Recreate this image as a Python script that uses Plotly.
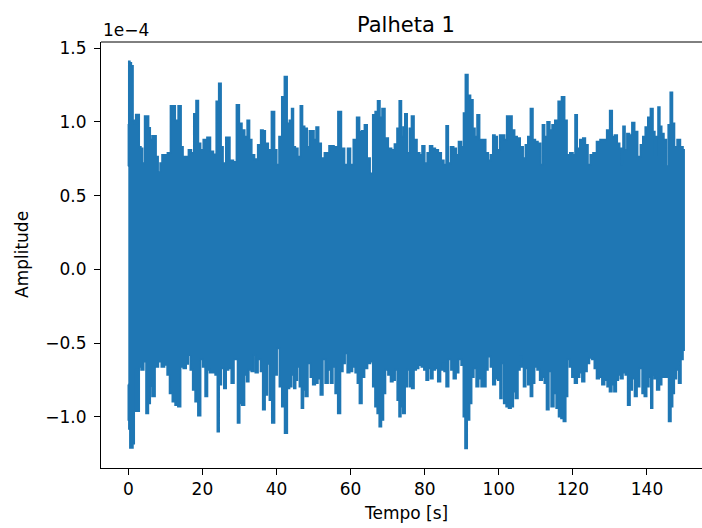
import plotly.graph_objects as go

# Vibration record of blade 1: upper and lower peak envelope of the signal
# (amplitude in units of 1e-4), sampled along the 150 s record.
t_upper = [0.0, 0.1, 0.2, 0.6, 1.0, 1.5, 1.8, 2.25, 2.7, 3.15, 3.6, 4.05, 4.8, 5.2, 5.7, 6.1, 6.75, 7.3, 7.65, 8.4,
           8.8, 9.45, 10.35, 10.8, 12.0, 12.3, 13.0, 13.95, 14.5, 15.0, 15.9, 16.6, 17.4, 18.0, 18.6, 19.2, 19.8, 20.7,
           21.8, 22.5, 23.4, 24.1, 24.75, 25.3, 25.8, 26.9, 27.9, 28.8, 29.6, 30.3, 31.0, 31.8, 32.4, 33.0, 33.6, 34.5,
           35.4, 36.1, 36.6, 37.3, 38.2, 39.1, 39.8, 40.3, 41.1, 41.8, 42.5, 43.2, 43.8, 44.4, 44.7, 45.4, 46.1, 46.8,
           47.2, 47.95, 48.6, 49.2, 49.8, 50.4, 51.0, 51.7, 52.4, 53.5, 54.9, 56.1, 57.1, 57.9, 58.8, 59.6, 60.3, 61.2,
           62.1, 62.7, 63.4, 64.1, 64.8, 65.7, 66.3, 67.0, 67.6, 68.2, 68.8, 69.7, 70.6, 71.5, 72.2, 72.9, 73.4, 74.0,
           74.4, 74.9, 75.6, 76.2, 76.7, 77.5, 78.3, 79.0, 79.6, 80.4, 81.0, 81.7, 82.5, 83.2, 84.1, 84.8, 85.5, 86.1,
           86.6, 87.4, 88.2, 88.8, 89.5, 90.3, 90.7, 91.3, 92.0, 92.7, 93.3, 93.8, 94.5, 95.1, 96.0, 96.9, 97.4, 98.1,
           98.7, 99.2, 99.9, 100.6, 101.2, 101.9, 102.4, 103.2, 103.9, 104.6, 105.3, 106.2, 106.9, 107.5, 108.2, 108.9,
           109.5, 110.2, 110.9, 111.6, 112.0, 112.7, 113.4, 114.1, 114.7, 115.6, 116.5, 117.4, 118.1, 118.7, 119.7,
           120.3, 120.9, 121.4, 122.4, 123.0, 123.7, 124.4, 125.0, 125.9, 126.9, 127.8, 128.7, 129.6, 130.3, 130.9,
           131.6, 132.3, 132.9, 133.3, 133.8, 134.3, 134.9, 135.6, 136.3, 137.0, 137.9, 138.6, 139.2, 139.9, 140.6,
           141.3, 141.9, 142.3, 142.8, 143.2, 143.7, 144.2, 144.9, 145.5, 146.0, 146.6, 147.1, 147.7, 148.6, 149.4,
           150.0]
amp_upper = [0.70, 0.98, 1.41, 1.40, 1.38, 1.01, 0.99, 1.05, 1.05, 0.83, 0.82, 0.72, 1.04, 1.04, 0.96, 0.88, 0.905,
             0.905, 0.765, 0.66, 0.72, 0.776, 0.776, 0.79, 1.108, 1.108, 1.01, 1.108, 0.83, 0.765, 0.765, 0.81, 0.79,
             1.054, 1.145, 0.855, 0.81, 0.88, 0.896, 0.80, 0.78, 1.14, 1.262, 0.83, 0.72, 0.896, 0.74, 0.73, 1.115,
             0.99, 0.945, 0.90, 1.01, 0.88, 0.776, 0.747, 0.844, 0.945, 0.94, 0.855, 0.81, 1.07, 0.81, 0.71, 0.90,
             1.17, 1.307, 0.99, 1.01, 1.09, 0.83, 0.82, 0.765, 1.108, 0.97, 0.957, 0.83, 0.94, 0.94, 0.88, 0.965,
             0.855, 0.754, 0.79, 0.837, 0.83, 1.07, 0.82, 0.71, 0.82, 0.71, 0.88, 1.03, 0.935, 0.94, 0.98, 0.754,
             0.652, 1.047, 1.07, 1.142, 1.03, 1.09, 0.89, 0.82, 0.81, 0.85, 0.957, 1.142, 0.90, 0.965, 1.054, 0.79,
             0.957, 1.04, 0.88, 0.79, 0.776, 0.837, 0.72, 0.79, 0.837, 0.82, 0.81, 0.79, 0.74, 0.71, 0.973, 0.72,
             0.83, 0.82, 0.776, 0.867, 0.83, 1.06, 1.32, 1.18, 1.15, 0.957, 0.90, 1.047, 0.88, 0.88, 0.79, 0.74,
             0.776, 0.91, 0.90, 0.81, 0.91, 0.91, 0.88, 1.04, 1.04, 0.945, 0.90, 0.89, 0.83, 0.754, 0.844, 0.90, 1.09,
             0.88, 0.867, 0.855, 0.71, 0.98, 0.90, 1.00, 0.945, 0.98, 1.01, 1.14, 1.17, 1.01, 0.776, 0.79, 0.776,
             1.047, 0.82, 0.88, 0.89, 0.844, 0.71, 0.776, 0.79, 0.867, 0.88, 0.88, 0.945, 1.077, 0.90, 0.91, 0.855,
             0.82, 0.71, 0.97, 0.81, 0.92, 0.91, 0.995, 0.935, 0.765, 0.844, 0.90, 0.965, 1.03, 1.09, 0.935, 0.776,
             0.90, 1.10, 0.97, 0.92, 0.88, 0.70, 0.98, 1.20, 0.99, 0.83, 0.88, 0.83, 0.81]

t_lower = [0.0, 0.05, 0.3, 0.6, 1.1, 1.35, 1.8, 2.25, 2.7, 3.15, 3.8, 4.5, 5.1, 5.7, 6.1, 6.75, 7.65, 8.55, 9.3, 10.2,
           10.8, 11.5, 12.3, 13.0, 13.8, 14.4, 15.3, 15.9, 16.4, 17.1, 17.7, 18.4, 19.2, 19.8, 20.4, 21.1, 21.6, 22.3,
           23.1, 23.8, 24.3, 24.7, 25.5, 26.1, 26.7, 27.4, 28.2, 28.8, 29.2, 29.8, 30.3, 31.0, 31.7, 32.2, 32.8, 33.6,
           34.0, 34.6, 35.4, 36.0, 36.6, 37.2, 37.8, 38.4, 39.1, 39.8, 40.5, 41.1, 41.8, 42.6, 43.2, 43.8, 44.4, 45.0,
           45.3, 45.9, 46.5, 47.0, 47.5, 48.1, 48.8, 49.5, 50.1, 50.8, 51.5, 52.2, 52.8, 53.5, 54.3, 54.9, 55.5, 56.2,
           56.9, 57.6, 58.2, 58.8, 59.4, 60.1, 60.9, 61.6, 62.1, 62.7, 63.4, 64.1, 65.0, 65.7, 66.3, 66.9, 67.5, 68.0,
           68.6, 69.1, 69.7, 70.5, 71.1, 71.7, 72.3, 72.9, 73.3, 73.8, 74.4, 75.0, 75.6, 76.2, 76.8, 77.4, 78.0, 78.7,
           79.5, 80.1, 80.7, 81.3, 81.9, 82.5, 83.2, 83.9, 84.6, 85.0, 85.5, 86.1, 86.8, 87.4, 88.1, 88.8, 89.5, 90.2,
           90.7, 91.1, 91.8, 92.4, 92.9, 93.6, 94.2, 94.9, 95.6, 96.3, 96.7, 97.4, 98.1, 98.7, 99.4, 100.1, 100.6,
           101.0, 101.7, 102.3, 103.0, 103.6, 104.2, 104.8, 105.5, 105.9, 106.4, 107.0, 107.5, 108.2, 108.9, 109.3,
           110.0, 110.7, 111.4, 112.0, 112.6, 113.2, 113.8, 114.5, 115.2, 115.8, 116.5, 117.1, 117.8, 118.3, 118.8,
           119.4, 120.1, 120.8, 121.5, 122.1, 122.8, 123.5, 124.1, 124.8, 125.5, 126.1, 126.7, 127.5, 128.2, 128.9,
           129.6, 130.2, 130.8, 131.4, 132.0, 132.5, 133.2, 133.8, 134.5, 135.1, 135.7, 136.3, 137.0, 137.6, 138.4,
           139.0, 139.6, 140.2, 140.8, 141.3, 141.7, 142.3, 143.0, 143.7, 144.2, 144.9, 145.5, 146.2, 146.7, 147.1,
           147.6, 148.2, 148.9, 149.4, 150.0]
amp_lower = [-0.78, -1.02, -1.08, -1.21, -1.21, -1.18, -0.96, -0.68, -0.96, -0.66, -0.68, -0.625, -0.975, -0.907,
             -0.79, -0.86, -0.66, -0.625, -0.66, -0.647, -0.715, -0.84, -0.896, -0.92, -0.93, -0.66, -0.67, -0.64,
             -0.58, -0.68, -0.817, -0.896, -0.99, -0.61, -0.66, -0.86, -0.68, -0.70, -0.70, -0.715, -1.10, -0.78,
             -0.67, -0.806, -0.68, -0.67, -0.77, -0.61, -0.61, -1.04, -0.907, -0.92, -0.715, -0.76, -0.68, -0.69,
             -0.58, -0.70, -0.61, -0.69, -0.95, -0.85, -0.64, -0.885, -1.04, -0.715, -0.535, -0.795, -0.93, -1.11,
             -0.806, -0.795, -0.715, -0.806, -0.75, -0.66, -0.795, -0.94, -0.817, -0.86, -0.636, -0.73, -0.78, -0.77,
             -0.74, -0.85, -0.61, -0.77, -0.68, -0.77, -0.66, -0.84, -0.975, -0.69, -0.636, -0.568, -0.70, -0.69,
             -0.66, -0.70, -0.77, -0.907, -0.73, -0.67, -0.636, -0.625, -0.795, -0.93, -0.975, -1.065, -1.02, -0.84,
             -0.68, -0.715, -0.76, -0.75, -0.68, -0.885, -0.998, -0.93, -0.975, -0.795, -0.68, -0.795, -0.806, -0.68,
             -0.67, -0.648, -0.66, -0.68, -0.75, -0.67, -0.74, -0.68, -0.67, -0.76, -0.68, -0.636, -0.69, -0.795,
             -0.61, -0.68, -0.74, -0.70, -0.61, -0.648, -0.998, -1.212, -1.02, -0.907, -0.73, -0.67, -0.795, -0.74,
             -0.795, -0.795, -0.68, -0.59, -0.66, -0.78, -0.74, -0.75, -0.874, -0.636, -0.907, -0.93, -0.94, -0.93,
             -0.828, -0.874, -0.68, -0.59, -0.66, -0.795, -0.67, -0.78, -0.86, -0.77, -0.66, -0.68, -0.75, -0.73,
             -0.77, -0.95, -0.69, -0.93, -0.84, -0.94, -0.998, -1.01, -1.03, -0.86, -0.61, -0.66, -0.73, -0.77, -0.73,
             -0.70, -0.76, -0.69, -0.636, -0.60, -0.61, -0.67, -0.74, -0.73, -0.78, -0.75, -0.795, -0.828, -0.78,
             -0.828, -0.75, -0.715, -0.74, -0.70, -0.715, -0.92, -0.817, -0.74, -0.86, -0.795, -0.67, -0.84, -0.86,
             -0.795, -0.73, -0.94, -0.715, -0.74, -0.817, -0.78, -0.73, -0.73, -0.73, -1.03, -0.93, -0.84, -0.74,
             -0.68, -0.77, -0.61, -0.546]

x_ticks = [0, 20, 40, 60, 80, 100, 120, 140]
y_ticks = [-1.0, -0.5, 0.0, 0.5, 1.0, 1.5]
y_tick_text = ["\u22121.0", "\u22120.5", "0.0", "0.5", "1.0", "1.5"]

BLUE = "#1f77b4"
FONT = "DejaVu Sans"

# Plot area in pixels (figure is 702 x 528)
L, R, T, B = 101, 702, 42, 468
W, H = 702, 528


def px(x):
    return (x - L) / (R - L)


def py(y):
    return (B - y) / (B - T)


fig = go.Figure()
# The record oscillates densely between its peak envelopes, so the trace
# is drawn as the band enclosed by the upper and lower peaks; each peak
# is held around its own time (midpoint steps) like the dense strokes.
fig.add_trace(go.Scatter(
    x=t_upper + t_lower[::-1],
    y=amp_upper + amp_lower[::-1],
    mode="lines",
    fill="toself",
    fillcolor=BLUE,
    line=dict(color=BLUE, width=1.8, shape="hvh"),
    hoverinfo="skip",
    showlegend=False,
))

axis_common = dict(
    showgrid=False,
    zeroline=False,
    showline=True,
    linecolor="black",
    linewidth=1,
    ticks="outside",
    ticklen=6,
    tickwidth=1,
    tickcolor="black",
    tickfont=dict(family=FONT, size=17, color="black"),
)

fig.update_layout(
    width=W,
    height=H,
    margin=dict(l=L, r=W - R, t=T, b=H - B, pad=0),
    paper_bgcolor="white",
    plot_bgcolor="white",
    xaxis=dict(range=[-7.37, 154.85], tickmode="array", tickvals=x_ticks,
               ticktext=[str(v) for v in x_ticks], mirror=False, **axis_common),
    yaxis=dict(range=[-1.346, 1.542], tickmode="array", tickvals=y_ticks,
               ticktext=y_tick_text, mirror=False, ticklabelstandoff=4, **axis_common),
    shapes=[dict(type="line", xref="paper", yref="paper", x0=0, x1=1, y0=1, y1=1,
                 line=dict(color="black", width=1))],
    annotations=[
        dict(text="Palheta 1", xref="paper", yref="paper", x=px(406), y=py(25),
             showarrow=False, xanchor="center", yanchor="middle",
             font=dict(family=FONT, size=21, color="black")),
        dict(text="Tempo [s]", xref="paper", yref="paper", x=px(406), y=py(513),
             showarrow=False, xanchor="center", yanchor="middle",
             font=dict(family=FONT, size=17, color="black")),
        dict(text="Amplitude", xref="paper", yref="paper", x=px(22), y=py(255),
             showarrow=False, xanchor="center", yanchor="middle", textangle=-90,
             font=dict(family=FONT, size=17, color="black")),
        dict(text="1e\u22124", xref="paper", yref="paper", x=px(101), y=py(30),
             showarrow=False, xanchor="left", yanchor="middle",
             font=dict(family=FONT, size=17, color="black")),
    ],
)

fig.write_html("out.html", config={"displayModeBar": False})
